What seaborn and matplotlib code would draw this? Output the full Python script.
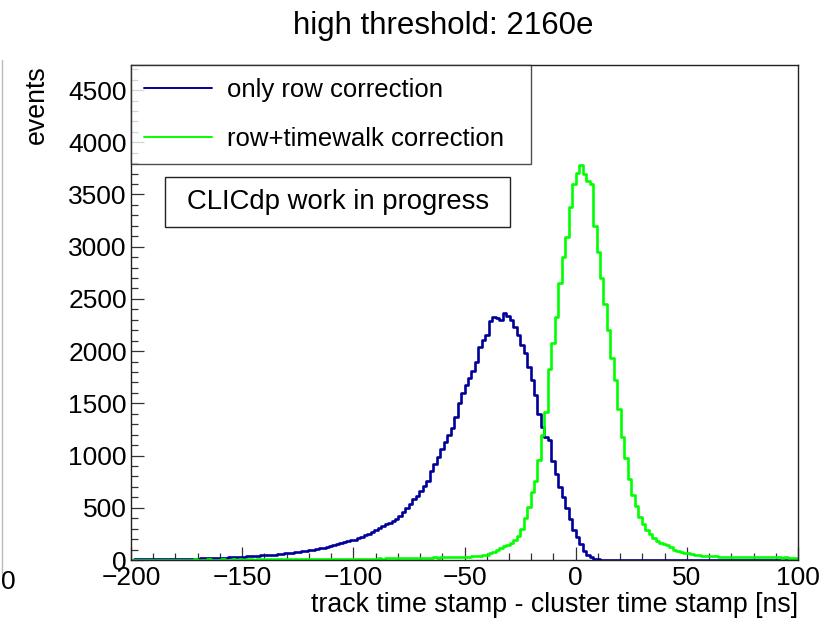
import numpy as np
import pandas as pd
import seaborn as sns
import matplotlib
matplotlib.use("Agg")
import matplotlib.pyplot as plt
from matplotlib.lines import Line2D
from matplotlib.patches import Rectangle

# ---- data ----
title = "high threshold: 2160e"
x_label = "track time stamp - cluster time stamp [ns]"
y_label = "events"
series_names = ["only row correction", "row+timewalk correction"]
x_min, x_max, n_bins = -200.0, 100.0, 192

row_corr = [
    4, 6, 5, 7, 6, 8, 7, 6, 9, 8,
    9, 10, 8, 11, 10, 12, 11, 13, 12, 14,
    15, 16, 17, 18, 19, 20, 21, 22, 24, 25,
    27, 30, 31, 34, 36, 39, 42, 44, 47, 49,
    50, 52, 57, 59, 63, 66, 70, 74, 78, 82,
    88, 95, 100, 104, 112, 118, 126, 134, 145, 155,
    165, 170, 182, 190, 196, 208, 222, 236, 252, 270,
    290, 303, 322, 340, 352, 372, 395, 418, 460, 500,
    540, 585, 615, 660, 705, 760, 850, 915, 985, 1060,
    1130, 1200, 1265, 1370, 1500, 1600, 1680, 1745, 1810, 1900,
    2040, 2110, 2150, 2290, 2330, 2320, 2300, 2365, 2340, 2300,
    2231, 2150, 2060, 1982, 1850, 1720, 1580, 1400, 1270, 1175,
    1150, 950, 820, 700, 600, 500, 390, 290, 220, 150,
    90, 45, 25, 12, 5, 2, 1, 1, 0, 0,
    0, 0, 0, 0, 0, 0, 0, 0, 0, 0,
    0, 0, 0, 0, 0, 0, 0, 0, 0, 0,
    0, 0, 0, 0, 0, 0, 0, 0, 0, 0,
    0, 0, 0, 0, 0, 0, 0, 0, 0, 0,
    0, 0, 0, 0, 0, 0, 0, 0, 0, 0,
    0, 0,
]

row_timewalk_corr = [
    2, 3, 2, 4, 3, 2, 3, 4, 3, 2,
    3, 4, 3, 3, 4, 2, 3, 4, 5, 3,
    4, 3, 5, 4, 3, 4, 5, 4, 3, 5,
    4, 5, 4, 6, 5, 4, 5, 6, 5, 6,
    5, 6, 7, 5, 6, 7, 6, 8, 7, 6,
    8, 7, 9, 8, 7, 9, 8, 10, 9, 8,
    10, 9, 11, 10, 12, 11, 12, 13, 12, 14,
    13, 15, 14, 16, 15, 17, 16, 18, 17, 19,
    18, 20, 19, 21, 22, 21, 23, 24, 23, 25,
    26, 25, 27, 28, 30, 29, 32, 31, 34, 36,
    40, 44, 50, 65, 80, 96, 115, 130, 145, 165,
    195, 230, 300, 400, 510, 650, 760, 960, 1200, 1420,
    1830, 2080, 2330, 2650, 2900, 3093, 3380, 3600, 3706, 3783,
    3700, 3630, 3600, 3200, 2950, 2700, 2450, 2200, 1930, 1720,
    1450, 1180, 980, 780, 620, 520, 412, 340, 290, 250,
    215, 185, 165, 150, 140, 120, 100, 90, 80, 70,
    65, 58, 52, 46, 42, 40, 37, 36, 35, 33,
    32, 31, 30, 30, 29, 28, 29, 28, 27, 28,
    27, 26, 27, 25, 26, 24, 25, 23, 24, 22, 23, 21,
]

colors = ["#000099", "#00ff00"]

# ---- figure ----
sns.set_style("white")
plt.rcParams["font.family"] = ["Liberation Sans", "DejaVu Sans"]
plt.rcParams["axes.unicode_minus"] = True
plt.rcParams["text.color"] = "black"
plt.rcParams["axes.labelcolor"] = "black"

fig = plt.figure(figsize=(8.33, 6.19), dpi=100)
ax = fig.add_axes([131 / 833, 59 / 619, 667 / 833, 495 / 619])

bin_w = (x_max - x_min) / n_bins
centers = x_min + bin_w * (np.arange(n_bins) + 0.5)
df = pd.DataFrame({
    "x": np.concatenate([centers, centers]),
    "w": np.concatenate([row_corr, row_timewalk_corr]).astype(float),
    "series": [series_names[0]] * n_bins + [series_names[1]] * n_bins,
})

for name, col in zip(series_names, colors):
    sub = df[df["series"] == name].reset_index(drop=True)
    sns.histplot(data=sub, x="x", weights="w", bins=n_bins,
                 binrange=(x_min, x_max), element="step",
                 fill=False, color=col, linewidth=1.9, ax=ax, legend=False)

ax.set_xlim(x_min, x_max)
ax.set_ylim(0, 4740)
ax.set_xticks(np.arange(-200, 101, 50))
ax.set_xticks(np.arange(-200, 101, 10), minor=True)
ax.set_yticks(np.arange(0, 4501, 500))
ax.set_yticks(np.arange(0, 4701, 100), minor=True)
ax.tick_params(axis="both", which="both", direction="in",
               bottom=True, left=True, top=False, right=False,
               labelsize=19, colors="#333333", labelcolor="black")
ax.tick_params(axis="both", which="major", length=9.5, width=0.9)
ax.tick_params(axis="both", which="minor", length=4.8, width=0.9)
ax.tick_params(axis="y", which="major", pad=3)
ax.tick_params(axis="x", which="major", pad=4)
for s in ax.spines.values():
    s.set_color("#222222")
    s.set_linewidth(1.0)

ax.set_xlabel(x_label, fontsize=19.3, loc="right", labelpad=2)
ax.set_ylabel(y_label, fontsize=19.3, loc="top")
ax.yaxis.set_label_coords(-0.121, 1.0)

fig.text(443 / 833, 1 - 26 / 619, title, ha="center", va="center", fontsize=22.5)

handles = [Line2D([], [], color=c, linewidth=1.4) for c in colors]
leg = ax.legend(handles, series_names, loc="upper left",
                bbox_to_anchor=(0, 0.808, 0.6, 0.192), mode="expand",
                borderaxespad=0, fontsize=18.5, frameon=True, fancybox=False,
                handlelength=2.65, handletextpad=0.58, labelspacing=0.97,
                borderpad=0.5)
leg.get_frame().set_edgecolor("#222222")
leg.get_frame().set_linewidth(1.0)

ax.add_patch(Rectangle((0.051, 0.673), 0.517, 0.101, transform=ax.transAxes,
                       fill=True, facecolor="white", edgecolor="#222222",
                       linewidth=1.0, zorder=5))
ax.text(0.31, 0.7235, "CLICdp work in progress", transform=ax.transAxes,
        ha="center", va="center", fontsize=19.8, zorder=6)

# fragments of the neighbouring panel at the left edge
fig.text(0.5 / 833, 1 - 582 / 619, "0", ha="left", va="center", fontsize=19)
fig.add_artist(Line2D([1.5 / 833, 1.5 / 833], [1 - 60 / 619, 1 - 575 / 619],
                      color="#bbbbbb", linewidth=1.0))

fig.savefig("out.png", dpi=100)
